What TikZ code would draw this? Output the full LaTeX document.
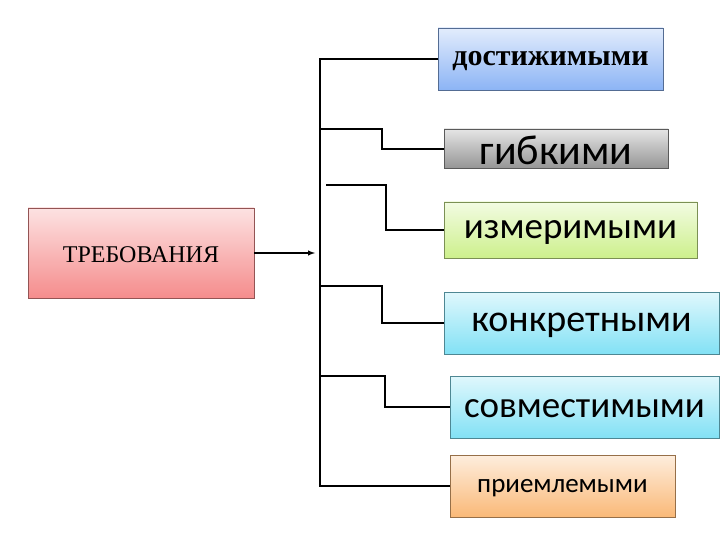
\documentclass[tikz,border=0pt]{standalone}
\usepackage{fontspec}
\setmainfont{Liberation Serif}
\newfontfamily\carlf{Carlito}
\begin{document}
\begin{tikzpicture}[x=1pt,y=-1pt,
 ln/.style={line width=1.4pt}]
\useasboundingbox (0,0) rectangle (720,540);
\fill[white] (0,0) rectangle (720,540);
\newcommand\mybox[7]{%
 \shade[top color=#6!25!white,bottom color=#6] (#1,#2) rectangle (#3,#4);
 \draw[#6!60!black,line width=0.5pt] (#1,#2) rectangle (#3,#4);
 \node[inner sep=0pt] (#7) at ({(#1+#3)/2},{(#2+#4)/2+2}) {#5};}
\definecolor{cblue}{RGB}{140,180,245}
\definecolor{cgrey}{RGB}{150,150,150}
\definecolor{cgreen}{RGB}{205,240,140}
\definecolor{ccyan}{RGB}{130,225,245}
\definecolor{corange}{RGB}{250,185,120}
\definecolor{cred}{RGB}{245,140,140}
\mybox{28}{208}{254}{298}{\fontsize{24}{28}\selectfont ТРЕБОВАНИЯ}{cred}{t}
\mybox{438}{28}{663}{90}{\fontsize{30}{34}\selectfont\bfseries достижимыми}{cblue}{a}
\mybox{444}{129}{668}{168}{\carlf\fontsize{42}{46}\selectfont гибкими}{cgrey}{b}
\mybox{444}{202}{697}{258}{\carlf\fontsize{37}{40}\selectfont измеримыми}{cgreen}{c}
\mybox{444}{292}{719}{354}{\carlf\fontsize{38}{42}\selectfont конкретными}{ccyan}{d}
\mybox{450}{376}{719}{438}{\carlf\fontsize{37}{40}\selectfont совместимыми}{ccyan}{e}
\mybox{450}{455}{675}{517}{\carlf\fontsize{27}{30}\selectfont приемлемыми}{corange}{f}
\coordinate (ae) at (315,253);
\coordinate (as) at (254,253);
\draw[ln,-latex] (as) -- (ae);
\draw[ln] (438,59) -- (320,59) -- (320,486) -- (450,486);
\draw[ln] (320,129) -- (382,129) -- (382,149) -- (444,149);
\draw[ln] (326,185) -- (386,185) -- (386,230) -- (444,230);
\draw[ln] (320,286) -- (382,286) -- (382,323) -- (444,323);
\draw[ln] (320,376) -- (385,376) -- (385,407) -- (450,407);
\end{tikzpicture}
\end{document}
